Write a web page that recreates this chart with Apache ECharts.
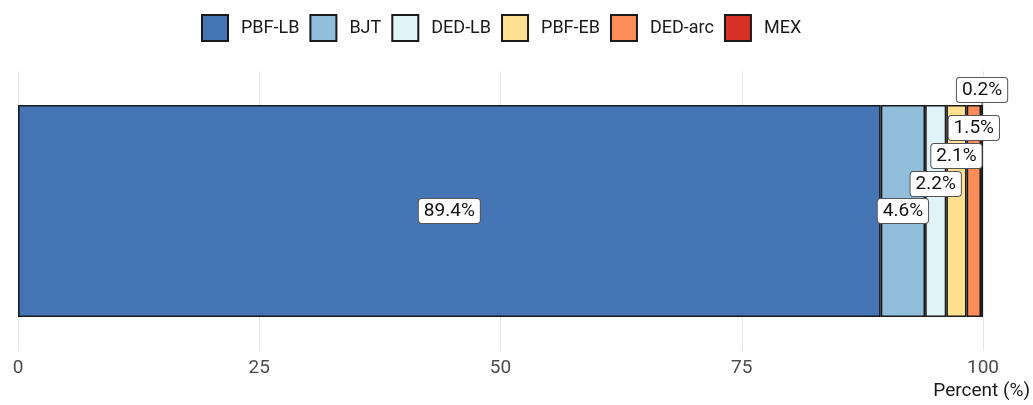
<!DOCTYPE html>
<html><head><meta charset="utf-8">
<script src="https://cdn.jsdelivr.net/npm/echarts@6/dist/echarts.min.js"></script>
<style>html,body{margin:0;padding:0;background:#fff}#c{width:1033px;height:405px}</style>
</head><body><div id="c"></div>
<script>
const categories = ['Process'];
const seriesNames = ['PBF-LB', 'BJT', 'DED-LB', 'PBF-EB', 'DED-arc', 'MEX'];
const seriesValues = [89.4, 4.6, 2.2, 2.1, 1.5, 0.2];
const xTicks = [0, 25, 50, 75, 100];
const colors = ['#4575b4', '#91bfdb', '#e0f3f8', '#fee090', '#fc8d59', '#d73027'];
const labelDy = [0, 0, -27, -55, -83, -121];
const FONT = 'Roboto, Liberation Sans, Arial, sans-serif';

const chart = echarts.init(document.getElementById('c'));
const series = seriesNames.map((name, i) => ({
  name: name,
  type: 'bar',
  stack: 'total',
  barWidth: '75.7%',
  data: [seriesValues[i]],
  itemStyle: { color: colors[i], borderColor: '#1a1a1a', borderWidth: 1.6 },
  label: {
    show: true,
    position: 'inside',
    formatter: p => p.value.toFixed(1) + '%',
    fontFamily: FONT, fontSize: 19, color: '#111',
    backgroundColor: '#ffffff', borderColor: '#555', borderWidth: 1,
    borderRadius: 3, padding: [3, 5, 2, 5]
  },
  labelLayout: { dy: labelDy[i] },
  labelLine: { show: i === 5, lineStyle: { color: '#333', width: 1 } },
  emphasis: { disabled: true }
}));

chart.setOption({
  animation: false,
  legend: {
    top: 9, left: 196,
    itemWidth: 26, itemHeight: 26, itemGap: 10,
    icon: 'rect',
    textStyle: { fontFamily: FONT, fontSize: 18, color: '#1a1a1a', padding: [0, 0, 0, 8] },
    data: seriesNames
  },
  grid: { left: 18, right: 50, top: 71, bottom: 54 },
  xAxis: {
    type: 'value', min: 0, max: 100, interval: 25,
    axisLine: { show: false }, axisTick: { show: false },
    splitLine: { show: true, lineStyle: { color: '#e5e5e5', width: 1 } },
    axisLabel: { fontFamily: FONT, fontSize: 19, color: '#4d4d4d', margin: 8,
      formatter: v => xTicks.includes(v) ? String(v) : '' }
  },
  yAxis: {
    type: 'category', data: categories,
    axisLine: { show: false }, axisTick: { show: false }, axisLabel: { show: false },
    splitLine: { show: false }
  },
  graphic: [{
    type: 'text', right: 3, top: 382,
    style: { text: 'Percent (%)', fontFamily: FONT, fontSize: 19, fill: '#1a1a1a' }
  }],
  series: series
});
</script></body></html>
